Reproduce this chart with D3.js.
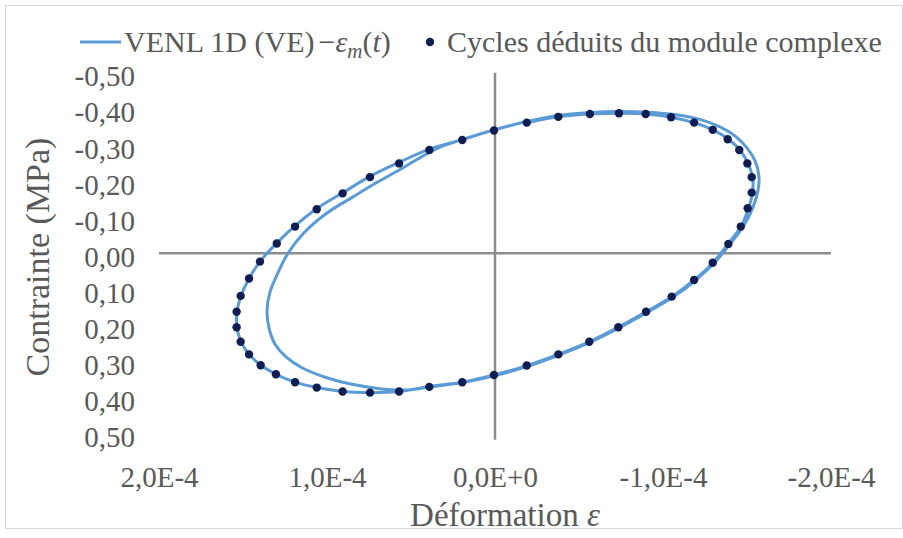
<!DOCTYPE html>
<html>
<head>
<meta charset="utf-8">
<script src="https://cdn.jsdelivr.net/npm/d3@7"></script>
<style>
  html, body { margin: 0; padding: 0; background: #ffffff; }
  svg { display: block; }
  text { font-family: "Liberation Serif", "Times New Roman", serif; fill: #595959; }
</style>
</head>
<body>
<svg id="chart" width="903" height="538"></svg>
<script>
// Stress–strain hysteresis: simulated VENL 1D (VE) response and cycles from the complex modulus.

// Cycles deduced from the complex modulus (strain, stress in MPa)
const dotStrain = [
  0.006e-4, 0.195e-4, 0.391e-4, 0.571e-4, 0.744e-4, 0.907e-4, 1.061e-4, 1.190e-4, 1.299e-4, 1.399e-4,
  1.464e-4, 1.514e-4, 1.538e-4, 1.538e-4, 1.514e-4, 1.464e-4, 1.395e-4, 1.304e-4, 1.190e-4, 1.061e-4,
  0.907e-4, 0.744e-4, 0.571e-4, 0.391e-4, 0.195e-4, 0.006e-4, -0.189e-4, -0.377e-4, -0.561e-4, -0.734e-4,
  -0.899e-4, -1.052e-4, -1.185e-4, -1.296e-4, -1.389e-4, -1.463e-4, -1.504e-4, -1.528e-4, -1.528e-4, -1.502e-4,
  -1.454e-4, -1.385e-4, -1.296e-4, -1.185e-4, -1.048e-4, -0.897e-4, -0.738e-4, -0.565e-4, -0.377e-4, -0.189e-4
];
const dotStress = [
  -0.340, -0.314, -0.286, -0.249, -0.211, -0.166, -0.122, -0.074, -0.027, 0.023,
  0.070, 0.118, 0.162, 0.205, 0.245, 0.280, 0.310, 0.335, 0.357, 0.372,
  0.383, 0.386, 0.383, 0.370, 0.357, 0.337, 0.311, 0.280, 0.245, 0.205,
  0.162, 0.120, 0.074, 0.026, -0.026, -0.074, -0.125, -0.168, -0.211, -0.249,
  -0.286, -0.316, -0.342, -0.362, -0.377, -0.386, -0.388, -0.386, -0.378, -0.362
];

// VENL 1D (VE) simulated response over time (first cycle then stabilised cycle)
const lineStrain = [
  -0.375e-4, -0.190e-4, 0.006e-4, 0.196e-4, 0.327e-4, 0.446e-4, 0.565e-4, 0.704e-4, 0.843e-4, 1.002e-4,
  1.141e-4, 1.232e-4, 1.290e-4, 1.339e-4, 1.357e-4, 1.345e-4, 1.310e-4, 1.244e-4, 1.149e-4, 1.006e-4,
  0.851e-4, 0.685e-4, 0.536e-4, 0.387e-4, 0.196e-4, 0.006e-4, -0.190e-4, -0.381e-4, -0.565e-4, -0.738e-4,
  -0.905e-4, -1.060e-4, -1.196e-4, -1.310e-4, -1.405e-4, -1.482e-4, -1.536e-4, -1.565e-4, -1.571e-4, -1.548e-4,
  -1.500e-4, -1.429e-4, -1.339e-4, -1.220e-4, -1.077e-4, -0.911e-4, -0.744e-4, -0.565e-4, -0.375e-4, -0.190e-4,
  0.006e-4, 0.196e-4, 0.393e-4, 0.571e-4, 0.744e-4, 0.905e-4, 1.060e-4, 1.190e-4, 1.298e-4, 1.399e-4,
  1.464e-4, 1.512e-4, 1.536e-4, 1.536e-4, 1.512e-4, 1.464e-4, 1.393e-4, 1.304e-4, 1.190e-4, 1.060e-4,
  0.905e-4, 0.744e-4, 0.571e-4, 0.393e-4, 0.196e-4, 0.006e-4, -0.190e-4, -0.375e-4, -0.560e-4, -0.732e-4,
  -0.899e-4, -1.054e-4, -1.185e-4, -1.298e-4, -1.387e-4, -1.464e-4, -1.509e-4, -1.533e-4, -1.533e-4, -1.506e-4,
  -1.458e-4, -1.390e-4, -1.298e-4, -1.185e-4, -1.048e-4, -0.899e-4, -0.738e-4, -0.565e-4, -0.375e-4, -0.190e-4
];
const lineStress = [
  -0.382, -0.365, -0.342, -0.315, -0.294, -0.265, -0.232, -0.196, -0.157, -0.111,
  -0.055, 0.000, 0.052, 0.107, 0.160, 0.207, 0.251, 0.287, 0.317, 0.344,
  0.363, 0.375, 0.379, 0.370, 0.358, 0.339, 0.314, 0.282, 0.247, 0.207,
  0.164, 0.121, 0.074, 0.024, -0.029, -0.078, -0.128, -0.173, -0.214, -0.256,
  -0.292, -0.325, -0.350, -0.371, -0.384, -0.391, -0.393, -0.390, -0.382, -0.365,
  -0.342, -0.315, -0.288, -0.252, -0.213, -0.168, -0.124, -0.076, -0.029, 0.023,
  0.070, 0.118, 0.162, 0.205, 0.245, 0.280, 0.310, 0.335, 0.357, 0.372,
  0.383, 0.386, 0.383, 0.369, 0.357, 0.337, 0.311, 0.280, 0.245, 0.205,
  0.162, 0.120, 0.074, 0.026, -0.026, -0.074, -0.125, -0.168, -0.211, -0.249,
  -0.286, -0.316, -0.342, -0.362, -0.377, -0.386, -0.388, -0.386, -0.378, -0.362
];

// Axis ticks and labels
const xTicks = [2e-4, 1e-4, 0, -1e-4, -2e-4];
const xTickLabels = ["2,0E-4", "1,0E-4", "0,0E+0", "-1,0E-4", "-2,0E-4"];
const yTicks = [-0.5, -0.4, -0.3, -0.2, -0.1, 0, 0.1, 0.2, 0.3, 0.4, 0.5];
const yTickLabels = ["-0,50", "-0,40", "-0,30", "-0,20", "-0,10", "0,00", "0,10", "0,20", "0,30", "0,40", "0,50"];

const lineColor = "#5b9bd5";
const dotColor = "#0f1d52";

const svg = d3.select("#chart");

// Chart frame
svg.append("rect")
  .attr("x", 5.5).attr("y", 5.5)
  .attr("width", 897).attr("height", 523)
  .attr("fill", "#ffffff")
  .attr("stroke", "#d9d9d9").attr("stroke-width", 1);

// Both axes run in reverse order
const x = d3.scaleLinear().domain([2e-4, -2e-4]).range([159, 831]);
const y = d3.scaleLinear().domain([-0.5, 0.5]).range([72.8, 433.8]);

// Tick labels (no axis line; the axes cross at zero)
const xAxis = d3.axisBottom(x)
  .tickValues(xTicks)
  .tickFormat((d, i) => xTickLabels[i])
  .tickSize(0).tickPadding(33);
const gx = svg.append("g").attr("transform", `translate(0,${y(0.5)})`).call(xAxis);
gx.select(".domain").remove();
gx.selectAll("text")
  .style("font-family", "'Liberation Serif', 'Times New Roman', serif")
  .style("font-size", "29px").attr("fill", "#595959");

const yAxis = d3.axisLeft(y)
  .tickValues(yTicks)
  .tickFormat((d, i) => yTickLabels[i])
  .tickSize(0).tickPadding(24);
const gy = svg.append("g").attr("transform", `translate(${x(2e-4)},0)`).call(yAxis);
gy.select(".domain").remove();
gy.selectAll("text")
  .attr("dy", "0.45em")
  .style("font-family", "'Liberation Serif', 'Times New Roman', serif")
  .style("font-size", "29px").attr("fill", "#595959");

// Zero lines
svg.append("line")
  .attr("x1", x(2e-4)).attr("x2", x(-2e-4))
  .attr("y1", y(0)).attr("y2", y(0))
  .attr("stroke", "#8c8c8c").attr("stroke-width", 2.5);
svg.append("line")
  .attr("x1", x(0)).attr("x2", x(0))
  .attr("y1", y(-0.5)).attr("y2", y(0.5) + 6)
  .attr("stroke", "#8c8c8c").attr("stroke-width", 2.5);

// Simulated response
const linePts = lineStrain.map((s, i) => [s, lineStress[i]]);
const lineGen = d3.line()
  .x(d => x(d[0])).y(d => y(d[1]))
  .curve(d3.curveCatmullRomClosed.alpha(0.5));
svg.append("path")
  .datum(linePts)
  .attr("d", lineGen)
  .attr("fill", "none")
  .attr("stroke", lineColor)
  .attr("stroke-width", 3)
  .attr("stroke-linejoin", "round");

// Cycles from the complex modulus
svg.append("g").selectAll("circle")
  .data(dotStrain.map((s, i) => [s, dotStress[i]]))
  .join("circle")
  .attr("cx", d => x(d[0])).attr("cy", d => y(d[1]))
  .attr("r", 4.2)
  .attr("fill", dotColor);

// Axis titles
svg.append("text")
  .attr("transform", `translate(37,257) rotate(-90)`)
  .attr("text-anchor", "middle").attr("dy", "0.35em")
  .style("font-size", "34px")
  .text("Contrainte (MPa)");

const xt = svg.append("text")
  .attr("x", 505).attr("y", 526)
  .attr("text-anchor", "middle")
  .style("font-size", "33px");
xt.append("tspan").text("Déformation ");
xt.append("tspan").style("font-style", "italic").text("ε");

// Legend
svg.append("line")
  .attr("x1", 80).attr("x2", 121).attr("y1", 42).attr("y2", 42)
  .attr("stroke", lineColor).attr("stroke-width", 3);
const lt = svg.append("text").attr("x", 124).attr("y", 52).style("font-size", "30px");
lt.append("tspan").text("VENL 1D (VE)");
lt.append("tspan").attr("dx", 4).text("−");
lt.append("tspan").style("font-style", "italic").text("ε");
lt.append("tspan").style("font-style", "italic").style("font-size", "21px").attr("dy", 6).text("m");
lt.append("tspan").attr("dy", -6).text("(");
lt.append("tspan").style("font-style", "italic").text("t");
lt.append("tspan").text(")");

svg.append("circle").attr("cx", 430).attr("cy", 42).attr("r", 4.2).attr("fill", dotColor);
svg.append("text").attr("x", 447).attr("y", 52).style("font-size", "30px")
  .text("Cycles déduits du module complexe");
</script>
</body>
</html>
